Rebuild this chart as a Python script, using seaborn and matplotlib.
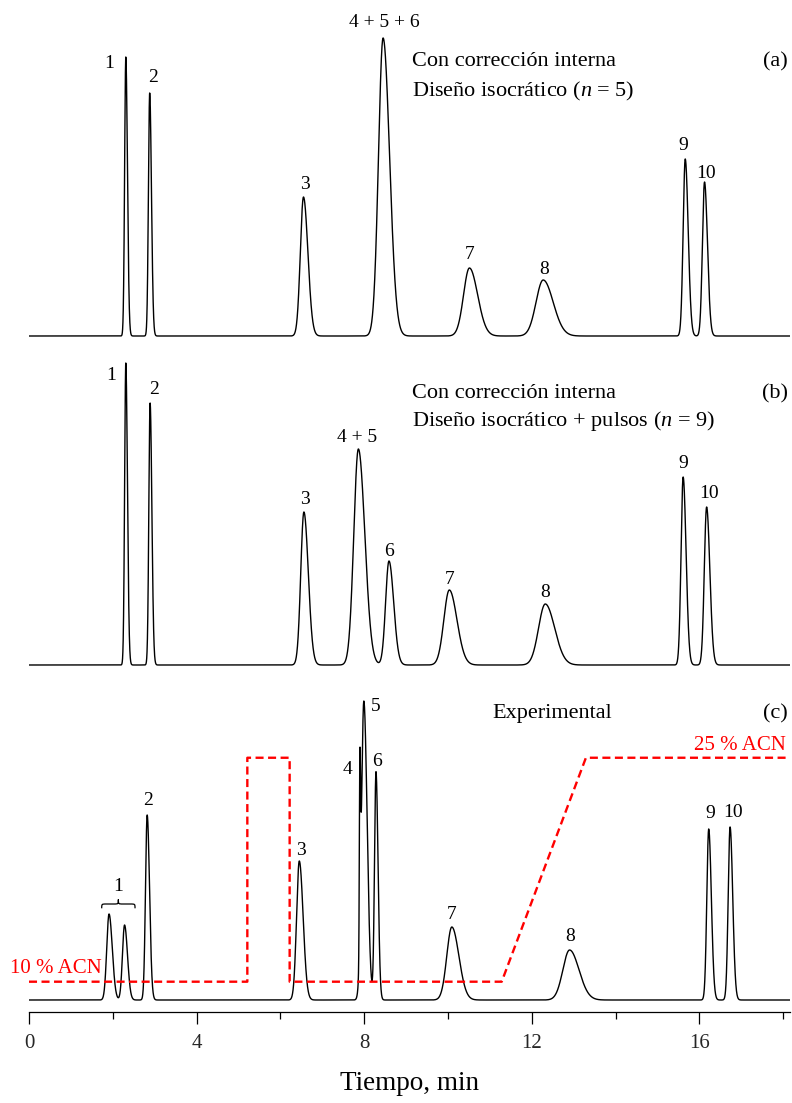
import numpy as np
import pandas as pd
import matplotlib
matplotlib.use("Agg")
import matplotlib.pyplot as plt
import seaborn as sns
from matplotlib.path import Path
from matplotlib.patches import PathPatch
from matplotlib.ticker import MultipleLocator

# Peak tables: retention time (min), height (detector units), width (sigma, min)
a_labels = ["1", "2", "3", "4 + 5 + 6", "7", "8", "9", "10"]
a_times = [2.31, 2.88, 6.55, 8.45, 10.51, 12.27, 15.66, 16.12]
a_heights = [279, 243, 139, 298, 68, 56, 177, 154]
a_widths = [0.028, 0.030, 0.075, 0.110, 0.140, 0.170, 0.050, 0.050]

b_labels = ["1", "2", "3", "4 + 5", "6", "7", "8", "9", "10"]
b_times = [2.31, 2.89, 6.56, 7.86, 8.59, 10.03, 12.32, 15.61, 16.17]
b_heights = [302, 262, 153, 216, 104, 75, 61, 188, 158]
b_widths = [0.028, 0.030, 0.075, 0.110, 0.080, 0.130, 0.160, 0.050, 0.055]

# the two peaks of compound 1 are grouped by a brace
c_labels = ["", "", "2", "3", "4", "5", "6", "7", "8", "9", "10"]
c_times = [1.91, 2.28, 2.82, 6.45, 7.895, 7.99, 8.28, 10.09, 12.90, 16.22, 16.73]
c_heights = [86, 75, 185, 139, 178, 299, 228, 73, 50, 171, 173]
c_widths = [0.055, 0.050, 0.040, 0.065, 0.012, 0.056, 0.035, 0.120, 0.160, 0.045, 0.045]

# Mobile-phase programme (% acetonitrile)
acn_time = [0, 5.21, 5.21, 6.22, 6.22, 11.28, 13.29, 18.16]
acn_pct = [10, 10, 25, 25, 10, 10, 25, 25]

tick_values = [0, 4, 8, 12, 16]
t_max = 18.16

# label offsets from each peak apex, in pixels (dx, dy of the label centre)
a_off = [(-17, -4), (3, 18), (1, 15), (1, 18), (0, 16), (1, 13), (-2, 16), (2, 11)]
b_off = [(-15, -10), (4, 16), (1, 15), (-1, 14), (0, 12), (0, 13), (0, 14), (0, 16), (2, 16)]
c_off = [None, None, (1, 17), (2, 13), (-12, -16), (12, -3), (1, 13), (0, 15), (1, 16), (2, 18), (3, 17)]

sns.set_theme(style="white")
plt.rcParams["font.family"] = ["Liberation Serif", "DejaVu Serif"]
plt.rcParams["mathtext.fontset"] = "custom"
plt.rcParams["mathtext.rm"] = "Liberation Serif"
plt.rcParams["mathtext.it"] = "Liberation Serif:italic"

W, H, DPI = 792, 1103, 100
fig = plt.figure(figsize=(W / DPI, H / DPI), dpi=DPI)
fig.patch.set_facecolor("white")

X0, X1 = 29, 790


def axes_px(top, bottom):
    return fig.add_axes([X0 / W, 1 - bottom / H, (X1 - X0) / W, (bottom - top) / H])


def signal(t, times, heights, widths, tail=1.4):
    t = np.asarray(t, dtype=float)
    y = np.zeros_like(t)
    for tr, h, s in zip(times, heights, widths):
        sig = np.where(t < tr, s, s * tail)
        y += h * np.exp(-0.5 * ((t - tr) / sig) ** 2)
    return y


t = np.linspace(0, t_max, 12000)

panels = [
    (0, 346, (-10, 336), a_times, a_heights, a_widths, a_labels, a_off),
    (346, 675, (-10, 319), b_times, b_heights, b_widths, b_labels, b_off),
    (675, 1011.7, (-11.7, 325), c_times, c_heights, c_widths, c_labels, c_off),
]

axes = []
for top, bottom, ylim, times, heights, widths, labels, offs in panels:
    ax = axes_px(top, bottom)
    df = pd.DataFrame({"t": t, "s": signal(t, times, heights, widths)})
    sns.lineplot(data=df, x="t", y="s", ax=ax, color="black", lw=1.0,
                 estimator=None, sort=False, legend=False)
    ax.set_xlim(0, t_max)
    ax.set_ylim(*ylim)
    ax.set_xlabel("")
    ax.set_ylabel("")
    ax.set_yticks([])
    for sp in ax.spines.values():
        sp.set_visible(False)
    ax.set_xticks([])
    ax.patch.set_alpha(0)
    apex = signal(times, times, heights, widths)
    for lab, tr, h, off in zip(labels, times, apex, offs):
        if not lab:
            continue
        ax.annotate(lab, xy=(tr, h), xytext=(off[0], off[1] - 7),
                    textcoords="offset pixels", ha="center", va="baseline",
                    fontsize=14, color="black", annotation_clip=False)
    axes.append(ax)

ax_a, ax_b, ax_c = axes

# time axis on the bottom panel
ax_c.spines["bottom"].set_visible(True)
ax_c.spines["bottom"].set_color("black")
ax_c.spines["bottom"].set_linewidth(0.9)
ax_c.set_xticks(tick_values)
ax_c.set_xticklabels([str(v) for v in tick_values])
ax_c.xaxis.set_minor_locator(MultipleLocator(2))
ax_c.tick_params(axis="x", which="major", direction="out", length=8.6, width=0.9,
                 color="black", labelsize=15, pad=7.5, bottom=True)
ax_c.tick_params(axis="x", which="minor", direction="out", length=5, width=0.9,
                 color="black", bottom=True)
ax_c.set_xlabel("Tiempo, min", fontsize=19.5, labelpad=13, color="black")

# acetonitrile programme on a secondary scale
u10, per_pct = 18.3, 14.93
ax_g = ax_c.twinx()
lo, hi = ax_c.get_ylim()
ax_g.set_ylim(10 + (lo - u10) / per_pct, 10 + (hi - u10) / per_pct)
gdf = pd.DataFrame({"t": acn_time, "acn": acn_pct})
sns.lineplot(data=gdf, x="t", y="acn", ax=ax_g, color="#ff0000", lw=1.7,
             estimator=None, sort=False, legend=False, dashes=False)
ax_g.lines[0].set_linestyle((0, (3.4, 1.9)))
ax_g.set_xlim(0, t_max)
ax_g.set_yticks([])
ax_g.set_ylabel("")
for sp in ax_g.spines.values():
    sp.set_visible(False)

# brace over the doublet of compound 1
b0, b1 = c_times[0] - 0.175, c_times[1] + 0.25
bm = 0.5 * (b0 + b1)
y0, y1, y2, r = 91.7, 96.0, 100.5, 0.11
verts = [(b0, y0), (b0, y1), (b0, y1), (b0 + r, y1),
         (bm - r, y1),
         (bm, y1), (bm, y1), (bm, y2),
         (bm, y1), (bm, y1), (bm + r, y1),
         (b1 - r, y1),
         (b1, y1), (b1, y1), (b1, y0)]
codes = [Path.MOVETO, Path.CURVE4, Path.CURVE4, Path.CURVE4,
         Path.LINETO,
         Path.CURVE4, Path.CURVE4, Path.CURVE4,
         Path.CURVE4, Path.CURVE4, Path.CURVE4,
         Path.LINETO,
         Path.CURVE4, Path.CURVE4, Path.CURVE4]
ax_c.add_patch(PathPatch(Path(verts, codes), facecolor="none", edgecolor="black", lw=0.9))
ax_c.text(bm, 109, "1", ha="center", va="baseline", fontsize=14, color="black")


def ftext(x, y, s, **kw):
    fig.text(x / W, 1 - y / H, s, va="baseline", color=kw.pop("color", "black"), **kw)


# panel captions
ftext(412, 66, "Con corrección interna", fontsize=16)
ftext(412, 96, r"Diseño isocrático ($n$ = 5)", fontsize=16)
ftext(788, 66, "(a)", fontsize=16, ha="right")

ftext(412, 398, "Con corrección interna", fontsize=16)
ftext(412, 426, r"Diseño isocrático + pulsos ($n$ = 9)", fontsize=16)
ftext(788, 398, "(b)", fontsize=16, ha="right")

ftext(552, 718, "Experimental", fontsize=16, ha="center")
ftext(788, 718, "(c)", fontsize=16, ha="right")
ftext(786, 750, "25 % ACN", fontsize=15, ha="right", color="#ff0000")
ftext(10, 973, "10 % ACN", fontsize=15, ha="left", color="#ff0000")

fig.savefig("out.png", dpi=DPI, facecolor="white")
